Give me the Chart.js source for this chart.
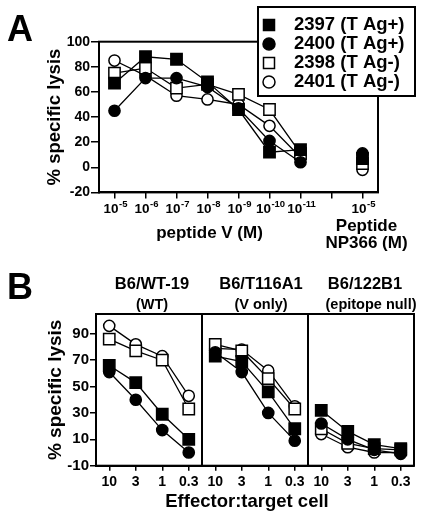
<!DOCTYPE html>
<html><head><meta charset="utf-8">
<script src="https://cdn.jsdelivr.net/npm/chart.js@4"></script>
<style>
html,body{margin:0;padding:0;background:#fff;width:424px;height:515px;overflow:hidden}
canvas{position:absolute;left:0}
#ca{top:0}
#cb{top:260px}
</style></head><body>
<canvas id="ca" width="424" height="260" style="width:424px;height:260px"></canvas>
<canvas id="cb" width="424" height="255" style="width:424px;height:255px"></canvas>
<script>
const FONT = '"Liberation Sans", Arial, Helvetica, sans-serif';

// ---------- Panel A data ----------
const peptideLabels = ['10⁻⁵','10⁻⁶','10⁻⁷','10⁻⁸','10⁻⁹','10⁻¹⁰','10⁻¹¹','','10⁻⁵'];
const a2397 = [67, 88, 86, 68, 46, 12, 14, null, 7];
const a2400 = [45, 71, 71, 64, 47, 21, 4, null, 11];
const a2398 = [75, 79, 63, 66, 58, 46, 11, null, 3];
const a2401 = [85, 73, 57, 54, 50, 33, 8, null, -2];
const seriesNames = ['2397 (T Ag+)', '2400 (T Ag+)', '2398 (T Ag-)', '2401 (T Ag-)'];
const aYTicks = [-20, 0, 20, 40, 60, 80, 100];

// ---------- Panel B data ----------
const etRatios = ['10', '3', '1', '0.3'];
const panelTitles = ['B6/WT-19', 'B6/T116A1', 'B6/122B1'];
const panelSubtitles = ['(WT)', '(V only)', '(epitope null)'];
const wt2397 = [66, 53, 29, 10];
const wt2400 = [61, 40, 17, 0];
const wt2398 = [86, 77, 70, 33];
const wt2401 = [96, 82, 73, 43];
const v2397 = [73, 69, 46, 18];
const v2400 = [76, 61, 30, 9];
const v2398 = [82, 77, 56, 33];
const v2401 = [79, 78, 62, 35];
const n2397 = [32, 16, 6, 3];
const n2400 = [22, 10, 2, -1];
const n2398 = [18, 7, 3, 2];
const n2401 = [14, 4, 0, 0];
const bYTicks = [-10, 10, 30, 50, 70, 90];

// marker styles per series (2397, 2400, 2398, 2401)
const mk = [
  {style: 'rect', fill: '#000', r: 8},
  {style: 'circle', fill: '#000', r: 5.6},
  {style: 'rect', fill: '#fff', r: 8},
  {style: 'circle', fill: '#fff', r: 5.6}
];

function ds(data, i) {
  return {
    label: seriesNames[i], data,
    borderColor: '#000', borderWidth: 1.3,
    pointStyle: mk[i].style, pointRadius: mk[i].r, pointHoverRadius: mk[i].r,
    pointBackgroundColor: mk[i].fill, pointBorderColor: '#000', pointBorderWidth: 1.5,
    spanGaps: false, tension: 0, fill: false
  };
}

function drawMarker(ctx, i, x, y) {
  ctx.save();
  ctx.fillStyle = mk[i].fill; ctx.strokeStyle = '#000'; ctx.lineWidth = 1.5;
  ctx.beginPath();
  if (mk[i].style === 'rect') { const s = 5.5; ctx.rect(x - s, y - s, 2 * s, 2 * s); }
  else { ctx.arc(x, y, 6, 0, Math.PI * 2); }
  ctx.fill(); ctx.stroke();
  ctx.restore();
}

function text(ctx, str, x, y, size, align) {
  ctx.font = 'bold ' + size + 'px ' + FONT;
  ctx.fillStyle = '#000';
  ctx.textAlign = align || 'center';
  ctx.textBaseline = 'middle';
  ctx.fillText(str, x, y);
}

// draw "10⁻⁵" style label as base + raised exponent
const SUP = {'⁻': '-', '⁰': '0', '¹': '1', '²': '2', '³': '3', '⁴': '4', '⁵': '5', '⁶': '6', '⁷': '7', '⁸': '8', '⁹': '9'};
function powLabel(ctx, label, cx, baseY) {
  const base = label.replace(/[⁻⁰¹²³⁴⁵⁶⁷⁸⁹]/g, '');
  const exp = label.replace(/[^⁻⁰¹²³⁴⁵⁶⁷⁸⁹]/g, '').split('').map(c => SUP[c]).join('');
  ctx.fillStyle = '#000';
  ctx.textBaseline = 'alphabetic';
  ctx.textAlign = 'left';
  const bf = 'bold 13.5px ' + FONT, ef = 'bold 9.5px ' + FONT;
  ctx.font = bf; const wb = ctx.measureText(base).width;
  ctx.font = ef; const we = ctx.measureText(exp).width;
  const x0 = cx - (wb + we + 0.5) / 2 + 1;
  ctx.font = bf; ctx.fillText(base, x0, baseY);
  ctx.font = ef; ctx.fillText(exp, x0 + wb + 0.5, baseY - 5.5);
}

Chart.defaults.font.family = FONT;
Chart.defaults.color = '#000';

// ---------- Chart A ----------
const plugA = {
  id: 'plugA',
  afterDatasetsDraw(chart) {
    const {ctx, chartArea: ca} = chart;
    ctx.save();
    ctx.strokeStyle = '#000'; ctx.lineWidth = 2;
    ctx.strokeRect(ca.left, ca.top, ca.right - ca.left, ca.bottom - ca.top);
    // legend box
    ctx.fillStyle = '#fff';
    ctx.fillRect(258, 7, 157, 89);
    ctx.strokeRect(258, 7, 157, 89);
    const rows = [25, 44, 63, 82];
    rows.forEach((y, i) => {
      drawMarker(ctx, i, 269, y);
      text(ctx, seriesNames[i], 294, y, 18.5, 'left');
    });
    // x tick labels with superscripts
    const xs = chart.scales.x;
    peptideLabels.forEach((lab, i) => {
      if (lab) powLabel(ctx, lab, xs.getPixelForValue(i), 212.5);
    });
    // panel letter and axis texts
    text(ctx, 'A', 20, 31, 36);
    const cx = (xs.getPixelForValue(0) + xs.getPixelForValue(6)) / 2;
    text(ctx, 'peptide V (M)', cx + 2, 233, 17);
    const nx = xs.getPixelForValue(8) + 4;
    text(ctx, 'Peptide', nx, 226, 17);
    text(ctx, 'NP366 (M)', nx, 243, 17);
    ctx.restore();
  }
};

new Chart(document.getElementById('ca'), {
  type: 'line',
  data: {
    labels: peptideLabels,
    datasets: [ds(a2397, 0), ds(a2400, 1), ds(a2398, 2), ds(a2401, 3)]
  },
  options: {
    responsive: false, animation: false, devicePixelRatio: 1,
    layout: {padding: {left: 44, top: 41.7, right: 46, bottom: 0}},
    plugins: {legend: {display: false}, tooltip: {enabled: false}},
    scales: {
      x: {
        type: 'category', offset: true,
        grid: {drawOnChartArea: false, drawTicks: true, tickLength: 6, color: '#000', lineWidth: 1.5},
        border: {display: true, color: '#000', width: 2},
        ticks: {display: false, autoSkip: false, maxRotation: 0, minRotation: 0},
        afterFit(s) { s.height = 260 - 192.4; }
      },
      y: {
        min: -20, max: 100,
        afterBuildTicks(s) { s.ticks = aYTicks.map(v => ({value: v})); },
        grid: {drawOnChartArea: false, drawTicks: true, tickLength: 8, color: '#000', lineWidth: 1.5},
        border: {display: true, color: '#000', width: 2},
        ticks: {font: {size: 14, weight: 'bold'}, color: '#000', padding: 1},
        title: {display: true, text: '% specific lysis', font: {size: 18.5, weight: 'bold'}, color: '#000', padding: 0},
        afterFit(s) { s.width = 55; }
      }
    }
  },
  plugins: [plugA]
});

// ---------- Chart B ----------
const bLabels = [].concat(etRatios, etRatios, etRatios);
const panelSeries = [
  [wt2397, wt2400, wt2398, wt2401],
  [v2397, v2400, v2398, v2401],
  [n2397, n2400, n2398, n2401]
];
const bDatasets = [];
panelSeries.forEach((series, p) => {
  series.forEach((vals, i) => {
    const d = new Array(bLabels.length).fill(null);
    vals.forEach((v, k) => { d[p * etRatios.length + k] = v; });
    bDatasets.push(ds(d, i));
  });
});

const plugB = {
  id: 'plugB',
  afterDatasetsDraw(chart) {
    const {ctx, chartArea: ca} = chart;
    const xs = chart.scales.x;
    ctx.save();
    ctx.strokeStyle = '#000'; ctx.lineWidth = 2;
    ctx.strokeRect(ca.left, ca.top, ca.right - ca.left, ca.bottom - ca.top);
    const n = etRatios.length;
    for (let p = 1; p < panelTitles.length; p++) {
      const x = (xs.getPixelForValue(p * n - 1) + xs.getPixelForValue(p * n)) / 2;
      ctx.beginPath(); ctx.moveTo(x, ca.top); ctx.lineTo(x, ca.bottom); ctx.stroke();
    }
    const subX = [152, 261, 371];
    const titX = [152, 261, 365];
    panelTitles.forEach((t, p) => {
      text(ctx, t, titX[p], 24, 16.5);
      text(ctx, panelSubtitles[p], subX[p], 45, 14.5);
    });
    text(ctx, 'B', 20, 29, 36);
    text(ctx, 'Effector:target cell', 247, 241.5, 18.5);
    ctx.restore();
  }
};

new Chart(document.getElementById('cb'), {
  type: 'line',
  data: {labels: bLabels, datasets: bDatasets},
  options: {
    responsive: false, animation: false, devicePixelRatio: 1,
    layout: {padding: {left: 44, top: 54, right: 10, bottom: 0}},
    plugins: {legend: {display: false}, tooltip: {enabled: false}},
    scales: {
      x: {
        type: 'category', offset: true,
        grid: {drawOnChartArea: false, drawTicks: true, tickLength: 5, color: '#000', lineWidth: 1.5},
        border: {display: true, color: '#000', width: 2},
        ticks: {font: {size: 14, weight: 'bold'}, color: '#000', autoSkip: false, maxRotation: 0, minRotation: 0, padding: 3},
        afterFit(s) { s.height = 255 - 205.7; }
      },
      y: {
        min: -10, max: 105,
        afterBuildTicks(s) { s.ticks = bYTicks.map(v => ({value: v})); },
        grid: {drawOnChartArea: false, drawTicks: true, tickLength: 6, color: '#000', lineWidth: 1.5},
        border: {display: true, color: '#000', width: 2},
        ticks: {font: {size: 15, weight: 'bold'}, color: '#000', padding: 1},
        title: {display: true, text: '% specific lysis', font: {size: 19, weight: 'bold'}, color: '#000', padding: 0},
        afterFit(s) { s.width = 52; }
      }
    }
  },
  plugins: [plugB]
});
</script>
</body></html>
